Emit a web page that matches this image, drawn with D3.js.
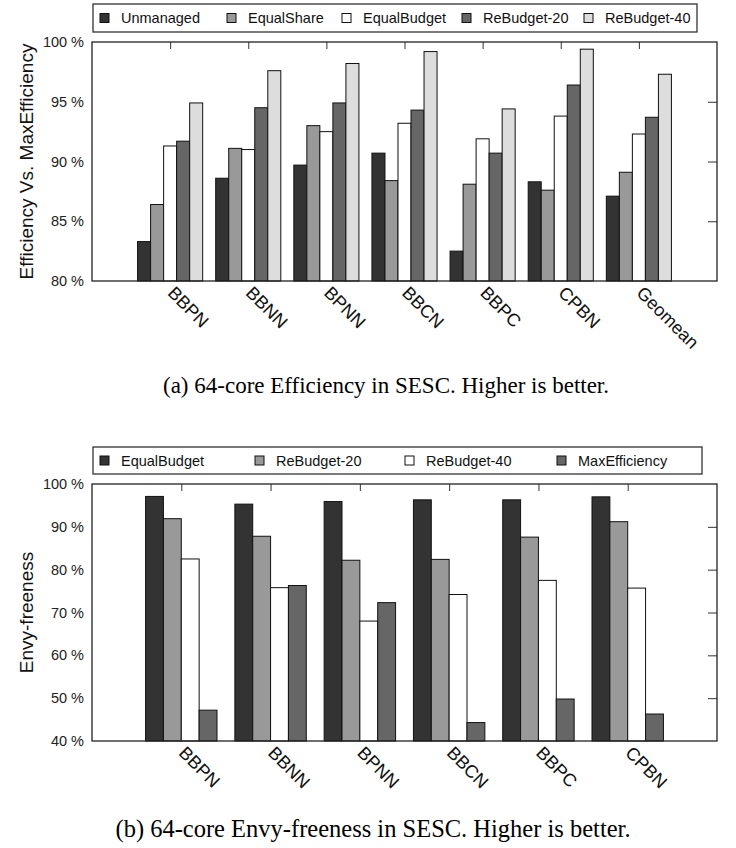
<!DOCTYPE html>
<html><head><meta charset="utf-8">
<script src="https://cdn.jsdelivr.net/npm/d3@7"></script>
<style>body{margin:0;background:#fff}svg{display:block}</style>
</head><body>
<svg id="c" width="736" height="848"></svg>
<script>
// ---- Chart (a) data ----
const catsA = ["BBPN","BBNN","BPNN","BBCN","BBPC","CPBN","Geomean"];
const seriesA = ["Unmanaged","EqualShare","EqualBudget","ReBudget-20","ReBudget-40"];
const unmanaged  = [83.3, 88.6, 89.7, 90.7, 82.5, 88.3, 87.1];
const equalShare = [86.4, 91.1, 93.0, 88.4, 88.1, 87.6, 89.1];
const equalBudgetA = [91.3, 91.0, 92.5, 93.2, 91.9, 93.8, 92.3];
const reBudget20A = [91.7, 94.5, 94.9, 94.3, 90.7, 96.4, 93.7];
const reBudget40A = [94.9, 97.6, 98.2, 99.2, 94.4, 99.4, 97.3];
const ticksA = [80, 85, 90, 95, 100];

// ---- Chart (b) data ----
const catsB = ["BBPN","BBNN","BPNN","BBCN","BBPC","CPBN"];
const seriesB = ["EqualBudget","ReBudget-20","ReBudget-40","MaxEfficiency"];
const equalBudgetB = [97.1, 95.3, 95.9, 96.3, 96.3, 97.0];
const reBudget20B  = [91.9, 87.8, 82.2, 82.4, 87.6, 91.2];
const reBudget40B  = [82.5, 75.8, 68.0, 74.2, 77.5, 75.7];
const maxEff       = [47.2, 76.3, 72.3, 44.3, 49.8, 46.3];
const ticksB = [40, 50, 60, 70, 80, 90, 100];

const colA = ["#333333","#999999","#ffffff","#666666","#dddddd"];
const colB = ["#333333","#999999","#ffffff","#666666"];

const svg = d3.select("#c");
const FONT = "'Liberation Sans', Arial, Helvetica, sans-serif";

function drawChart(o){
  const g = svg.append("g");
  const x = d3.scaleLinear().domain([-1, o.cats.length]).range([o.left, o.right]);
  const y = d3.scaleLinear().domain(o.ydom).range([o.bottom, o.top]);
  const n = o.data.length;
  const bw = 1/(n+1);
  // bars
  o.data.forEach((vals, si) => {
    g.selectAll(null).data(vals).enter().append("rect")
      .attr("x", (d,i) => x(i - n*bw/2 + si*bw))
      .attr("width", x(bw) - x(0))
      .attr("y", d => y(d))
      .attr("height", d => y(o.ydom[0]) - y(d))
      .attr("fill", o.colors[si])
      .attr("stroke", "#111").attr("stroke-width", 1);
  });
  // left axis labels
  const ax = g.append("g").attr("transform", `translate(${o.left},0)`)
    .call(d3.axisLeft(y).tickValues(o.ticks).tickSize(0).tickPadding(8).tickFormat(d => d + " %"));
  ax.select(".domain").remove();
  ax.selectAll("text").attr("font-family", FONT).attr("font-size", 14.5).attr("fill", "#222");
  // right ticks (inward)
  const ar = g.append("g").attr("transform", `translate(${o.right},0)`)
    .call(d3.axisRight(y).tickValues(o.ticks.slice(1, -1)).tickSize(-9).tickFormat(""));
  ar.select(".domain").remove();
  ar.selectAll("line").attr("stroke", "#333");
  // top ticks (inward)
  const at = g.append("g").attr("transform", `translate(0,${o.top})`)
    .call(d3.axisTop(x).tickValues(d3.range(o.cats.length)).tickSize(-7).tickFormat(""));
  at.select(".domain").remove();
  at.selectAll("line").attr("stroke", "#333");
  // bottom category labels
  const ab = g.append("g").attr("transform", `translate(0,${o.bottom})`)
    .call(d3.axisBottom(x).tickValues(d3.range(o.cats.length)).tickSize(0).tickFormat(i => o.cats[i]));
  ab.select(".domain").remove();
  ab.selectAll("text")
    .attr("font-family", FONT).attr("font-size", 18).attr("fill", "#111")
    .attr("text-anchor", "start").attr("dy", null).attr("y", 0)
    .attr("transform", "translate(-4,13) rotate(45)");
  // frame
  g.append("rect").attr("x", o.left).attr("y", o.top)
    .attr("width", o.right - o.left).attr("height", o.bottom - o.top)
    .attr("fill", "none").attr("stroke", "#222").attr("stroke-width", 1.3);
  // y title
  g.append("text").attr("transform", `translate(${o.titleX},${(o.top + o.bottom)/2}) rotate(-90)`)
    .attr("text-anchor", "middle").attr("font-family", FONT).attr("font-size", 19).attr("fill", "#111")
    .text(o.ytitle);
  // legend
  const lg = g.append("g");
  lg.append("rect").attr("x", o.legBox[0]).attr("y", o.legBox[1])
    .attr("width", o.legBox[2] - o.legBox[0]).attr("height", o.legBox[3] - o.legBox[1])
    .attr("fill", "#fff").attr("stroke", "#333").attr("stroke-width", 1.3);
  const cy = (o.legBox[1] + o.legBox[3]) / 2;
  o.series.forEach((s, i) => {
    lg.append("rect").attr("x", o.legX[i]).attr("y", cy - 4.5).attr("width", 9).attr("height", 9)
      .attr("fill", o.colors[i]).attr("stroke", "#111").attr("stroke-width", 1);
    lg.append("text").attr("x", o.legX[i] + 21).attr("y", cy + 5)
      .attr("font-family", FONT).attr("font-size", 14.5).attr("fill", "#111").text(s);
  });
  // caption
  g.append("text").attr("x", o.capX).attr("y", o.capY).attr("text-anchor", "middle")
    .attr("font-family", "'Liberation Serif', 'Times New Roman', serif").attr("font-size", o.capSize)
    .attr("fill", "#000").text(o.caption);
}

drawChart({
  cats: catsA, series: seriesA, data: [unmanaged, equalShare, equalBudgetA, reBudget20A, reBudget40A],
  colors: colA, ydom: [80, 100], ticks: ticksA,
  left: 92, right: 717, top: 42, bottom: 281, titleX: 33,
  ytitle: "Efficiency Vs. MaxEfficiency",
  legBox: [93, 4, 697, 32], legX: [100, 227, 342, 462, 584],
  caption: "(a) 64-core Efficiency in SESC. Higher is better.", capX: 386, capY: 393, capSize: 23
});
drawChart({
  cats: catsB, series: seriesB, data: [equalBudgetB, reBudget20B, reBudget40B, maxEff],
  colors: colB, ydom: [40, 100], ticks: ticksB,
  left: 92, right: 717, top: 484, bottom: 741, titleX: 33,
  ytitle: "Envy-freeness",
  legBox: [93, 447, 702, 474], legX: [100, 255, 405, 557],
  caption: "(b) 64-core Envy-freeness in SESC. Higher is better.", capX: 373, capY: 837, capSize: 24.5
});
</script>
</body></html>
